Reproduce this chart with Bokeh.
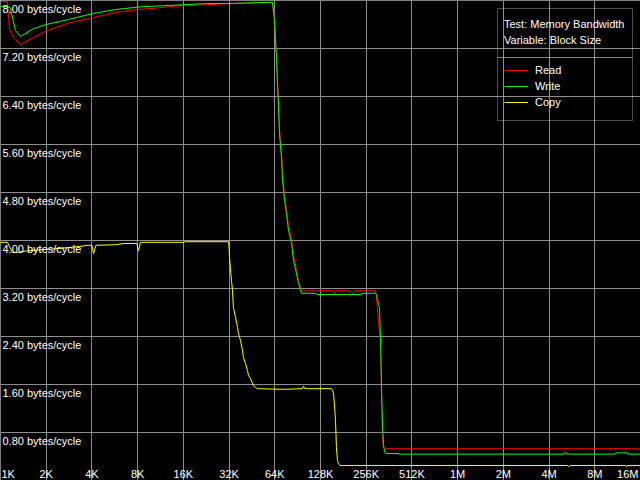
from bokeh.plotting import figure
from bokeh.models import Range1d, Grid, FixedTicker, BoxAnnotation, Label, Legend, LegendItem
from bokeh.core.properties import value
from bokeh.embed import file_html
from bokeh.resources import INLINE

# ---- data (block size in KB, bandwidth in bytes/cycle) ----
read_kb = [1, 1.11, 1.146, 1.22, 1.354, 1.65, 2, 2.76, 4, 5.72, 8, 11.3, 16, 23.1, 32, 45, 61.8,
           63.7, 64.7, 65.7, 66.7, 67.7, 68.7, 70.9, 72.0, 74.2, 76.4, 78.8, 82.5, 85.0, 88.9, 91.7,
           96, 128, 155, 158, 161, 200, 208, 216, 256, 295, 299, 313, 318, 323, 328, 333, 343, 16384]
read_bw = [7.98, 7.98, 7.52, 7.37, 7.27, 7.38, 7.49, 7.62, 7.71, 7.80, 7.85, 7.88, 7.92, 7.93, 7.95, 7.96, 7.97,
           7.72, 7.40, 7.12, 6.68, 6.35, 5.88, 5.45, 5.10, 4.75, 4.52, 4.25, 4.02, 3.75, 3.52, 3.33,
           3.16, 3.16, 3.16, 3.12, 3.16, 3.16, 3.12, 3.16, 3.16, 3.16, 3.05, 2.45, 2.38, 1.43, 0.70, 0.55, 0.53, 0.53]

write_kb = [1, 1.11, 1.16, 1.255, 1.354, 1.65, 2, 2.76, 4, 5.72, 8, 11.3, 16, 23.1, 32, 61.8,
            63.7, 64.7, 65.7, 66.7, 67.7, 68.7, 70.9, 72.0, 74.2, 76.4, 78.8, 82.5, 85.0, 88.9, 91.7,
            96, 118, 122, 235, 240, 295, 299, 304, 308, 313, 318, 323, 328, 333, 338, 343, 418, 420,
            5100, 5150, 5300, 5350, 11200, 11300, 13400, 13500, 16384]
write_bw = [7.90, 7.90, 7.88, 7.50, 7.40, 7.53, 7.60, 7.68, 7.78, 7.85, 7.89, 7.91, 7.93, 7.95, 7.95, 7.97,
            7.67, 7.33, 7.05, 6.58, 6.25, 5.78, 5.38, 5.00, 4.67, 4.45, 4.17, 3.95, 3.67, 3.45, 3.28,
            3.12, 3.12, 3.10, 3.10, 3.12, 3.12, 3.10, 3.02, 2.95, 2.88, 2.38, 1.55, 0.88, 0.60, 0.47, 0.45, 0.45, 0.44,
            0.44, 0.46, 0.46, 0.44, 0.44, 0.46, 0.46, 0.44, 0.44]

copy_kb = [1, 1.11, 1.2, 1.29, 1.5, 2, 2.76, 3.3, 3.8, 4, 4.1, 4.25, 5.72, 6.5, 7.9, 8.1, 8.35, 16, 16.5,
           31.8, 32.0, 32.2, 33.2, 33.7, 34.2, 35.3, 36.4, 36.9, 38.1, 39.2, 39.8, 41.1, 42.3, 43.0, 44.3,
           45.6, 46.3, 47.8, 49.2, 75, 97, 99, 101, 151, 153.5, 156, 158, 160.7, 163, 165.6, 168, 173,
           5400, 5500, 5650, 13100, 13250, 13400, 16384]
copy_bw = [3.97, 3.97, 3.80, 3.80, 3.83, 3.85, 3.88, 3.90, 3.92, 3.92, 3.78, 3.92, 3.93, 3.95, 3.95, 3.83, 3.97, 3.97, 3.98,
           3.98, 3.88, 3.72, 3.33, 3.17, 2.88, 2.72, 2.55, 2.45, 2.33, 2.17, 2.05, 1.95, 1.83, 1.75, 1.70,
           1.62, 1.58, 1.55, 1.53, 1.52, 1.53, 1.57, 1.53, 1.53, 1.50, 1.45, 1.28, 1.00, 0.55, 0.33, 0.28, 0.25,
           0.25, 0.23, 0.25, 0.25, 0.23, 0.25, 0.25]

x_ticks = [1, 2, 4, 8, 16, 32, 64, 128, 256, 512, 1024, 2048, 4096, 8192, 16384]
x_labels = ["1K", "2K", "4K", "8K", "16K", "32K", "64K", "128K", "256K", "512K",
            "1M", "2M", "4M", "8M", "16M"]
y_ticks = [8.00, 7.20, 6.40, 5.60, 4.80, 4.00, 3.20, 2.40, 1.60, 0.80]
y_labels = ["%.2f bytes/cycle" % v for v in y_ticks]

FONT_NAME = "Liberation Sans"
FONT = value(FONT_NAME)
W, H = 640, 480

p = figure(width=W, height=H, x_axis_type="log", x_range=Range1d(1, 16384), y_range=Range1d(0, 8),
           x_axis_location=None, y_axis_location=None, toolbar_location=None, output_backend="svg",
           background_fill_color="black", border_fill_color="black", min_border=0,
           outline_line_color=None)
p.center = [r for r in p.center if not isinstance(r, Grid)]
grid_col = "#8e8e8e"
p.add_layout(Grid(dimension=0, ticker=FixedTicker(ticks=x_ticks[1:-1]), grid_line_color=grid_col))
p.add_layout(Grid(dimension=1, ticker=FixedTicker(ticks=y_ticks[1:]), grid_line_color=grid_col))

r_read = p.line(read_kb, read_bw, line_color="#ff0000", line_width=1)
r_write = p.line(write_kb, write_bw, line_color="#00ff00", line_width=1)
r_copy = p.line(copy_kb, copy_bw, line_color="#ffff00", line_width=1)

# y tick labels inside the frame
p.text(x=[1] * len(y_ticks), y=y_ticks, text=y_labels, text_font=FONT, text_font_size="11px",
       text_color="white", text_align="left", text_baseline="top", x_offset=2, y_offset=2)
# x tick labels inside the frame
p.text(x=x_ticks[:1], y=[0], text=x_labels[:1], text_font=FONT, text_font_size="11px",
       text_color="white", text_align="left", text_baseline="bottom", x_offset=1, y_offset=-1)
p.text(x=x_ticks[1:-1], y=[0] * (len(x_ticks) - 2), text=x_labels[1:-1], text_font=FONT,
       text_font_size="11px", text_color="white", text_align="center", text_baseline="bottom",
       y_offset=-1)
p.text(x=x_ticks[-1:], y=[0], text=x_labels[-1:], text_font=FONT, text_font_size="11px",
       text_color="white", text_align="right", text_baseline="bottom", x_offset=-2, y_offset=-1)

# legend box (screen units from bottom-left)
L, R = 497, 632
p.add_layout(BoxAnnotation(left=L, right=R, bottom=H - 57, top=H - 8, left_units="screen",
                           right_units="screen", bottom_units="screen", top_units="screen",
                           fill_alpha=0, line_color="white", line_width=1))
p.add_layout(BoxAnnotation(left=L, right=R, bottom=H - 120, top=H - 57, left_units="screen",
                           right_units="screen", bottom_units="screen", top_units="screen",
                           fill_alpha=0, line_color="white", line_width=1))
for txt, yy in [("Test: Memory Bandwidth", 23), ("Variable: Block Size", 39)]:
    p.add_layout(Label(x=503.5, y=H - yy, x_units="screen", y_units="screen", text=txt,
                       text_font=FONT_NAME, text_font_size="11px", text_color="white",
                       text_baseline="middle", text_align="left"))

legend = Legend(items=[LegendItem(label="Read", renderers=[r_read]),
                       LegendItem(label="Write", renderers=[r_write]),
                       LegendItem(label="Copy", renderers=[r_copy])],
                location=(504, H - 110), padding=0, spacing=0, margin=0,
                glyph_width=24, glyph_height=16, label_height=16, label_standoff=7,
                border_line_color=None, background_fill_alpha=0,
                label_text_color="white", label_text_font=FONT_NAME, label_text_font_size="11px")
p.add_layout(legend)

open("out.html", "w").write(file_html(p, INLINE))
